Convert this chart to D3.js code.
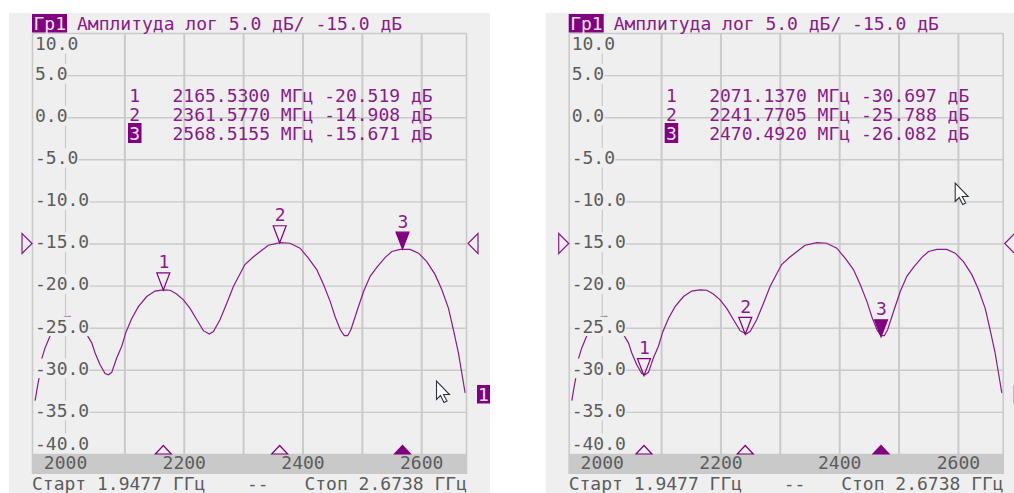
<!DOCTYPE html>
<html>
<head>
<meta charset="utf-8">
<script src="https://cdn.jsdelivr.net/npm/d3@7"></script>
<style>
html,body{margin:0;padding:0;background:#fff;overflow:hidden}
svg{display:block}
text{font-family:"DejaVu Sans Mono",monospace;font-size:18px;white-space:pre}
</style>
</head>
<body>
<svg id="chart" width="1014" height="493"></svg>
<script>
const traceFreq = [1949.5,1952.8,1956.2,1960.7,1966.3,1974.7,1986,1998.9,2008.4,2022.5,2038.2,2045,2050.6,2059,2067.4,2073,2078.7,2087,2095.5,2102.8,2112.4,2123.5,2137.7,2151.6,2165.6,2177,2188,2199.4,2210.6,2222,2233,2243,2250,2261,2272.5,2283.6,2303,2317,2330,2342.6,2362.3,2379,2396,2410,2424,2435.6,2446.8,2455,2463.7,2470.4,2476,2481.6,2491.7,2502.9,2514,2525.5,2539.5,2550.6,2564.6,2581.3,2595.5,2609.4,2623.5,2634.8,2646,2654.3,2662.7,2668.3,2674];
const traceDb = [-33.7,-32.3,-31,-28.7,-27.4,-26,-24.6,-23.7,-23.65,-24.6,-26,-26.8,-28,-29.4,-30.45,-30.6,-30.3,-28.6,-27.2,-25.5,-23.9,-22.5,-21.3,-20.65,-20.5,-20.55,-21,-21.7,-22.7,-24.05,-25.35,-25.75,-25.45,-24.05,-22.1,-20.1,-17.5,-16.6,-15.9,-15.2,-14.9,-14.97,-15.55,-16.75,-18.1,-19.9,-21.9,-23.7,-25.25,-25.95,-25.95,-25.25,-23.05,-20.7,-18.9,-17.8,-16.65,-15.95,-15.7,-15.7,-16.15,-17.15,-18.7,-20.5,-22.7,-25.25,-28,-30.35,-32.75];

const yTicks = [10,5,0,-5,-10,-15,-20,-25,-30,-35,-40];
const yLabels = ["10.0","5.0","0.0","-5.0","-10.0","-15.0","-20.0","-25.0","-30.0","-35.0","-40.0"];
const xTicks = [2000,2100,2200,2300,2400,2500,2600];
const xLabels = ["2000","","2200","","2400","","2600"];

const titleBadge = "Гр1";
const titleText = "Амплитуда лог 5.0 дБ/ -15.0 дБ";
const startText = "Старт 1.9477 ГГц";
const midText = "--";
const stopText = "Стоп 2.6738 ГГц";

const leftMarkerNames = ["1","2","3"];
const leftMarkerFreq = [2165.53,2361.577,2568.5155];
const leftMarkerDb = [-20.519,-14.908,-15.671];
const leftMarkerRows = ["2165.5300 МГц -20.519 дБ","2361.5770 МГц -14.908 дБ","2568.5155 МГц -15.671 дБ"];

const rightMarkerNames = ["1","2","3"];
const rightMarkerFreq = [2071.137,2241.7705,2470.492];
const rightMarkerDb = [-30.697,-25.788,-26.082];
const rightMarkerRows = ["2071.1370 МГц -30.697 дБ","2241.7705 МГц -25.788 дБ","2470.4920 МГц -26.082 дБ"];

const refLevel = -15;
const channelBadge = "1";

const PURPLE = "#800080", TRACE = "#8a1a8a", GRID = "#cacaca", INK = "#5c5c5c", PANEL = "#efefef";
const svg = d3.select("#chart");

function panel(ox, names, freqs, dbs, rows, cursor, showBadgeText) {
  const g = svg.append("g").attr("transform", `translate(${ox},0)`);
  const L = 32.5, R = 466.5, T = 33, B = 454;
  const x = d3.scaleLinear().domain([1947.7,2673.8]).range([34,465]);
  const y = d3.scaleLinear().domain([10,-40]).range([T,B]);

  g.append("rect").attr("x",9).attr("y",13).attr("width",481).attr("height",480).attr("fill",PANEL);

  // grid
  const gx = g.append("g").attr("transform",`translate(0,${B})`)
    .call(d3.axisBottom(x).tickValues(xTicks).tickSize(-(B-T)).tickFormat(""));
  gx.select(".domain").remove();
  gx.selectAll("line").attr("stroke",GRID).attr("stroke-width",2)
    .filter(d=>d===2000).attr("stroke-width",1.2);
  const gy = g.append("g").attr("transform",`translate(${L},0)`)
    .call(d3.axisLeft(y).tickValues(yTicks).tickSize(-(R-L)).tickFormat(""));
  gy.select(".domain").remove();
  gy.selectAll("line").attr("stroke",GRID).attr("stroke-width",1.4);
  g.append("line").attr("x1",L).attr("x2",L).attr("y1",T).attr("y2",B+20).attr("stroke",GRID).attr("stroke-width",1.6);
  g.append("line").attr("x1",R).attr("x2",R).attr("y1",T).attr("y2",B+20).attr("stroke",GRID).attr("stroke-width",1.6);

  // trace
  const line = d3.line().x((d,i)=>x(traceFreq[i])).y(d=>y(d));
  g.append("path").attr("d",line(traceDb)).attr("fill","none").attr("stroke",TRACE).attr("stroke-width",1.2);

  // y labels with knock-out boxes, drawn over grid and trace
  const ly = g.append("g").attr("transform",`translate(${L},0)`)
    .call(d3.axisLeft(y).tickValues(yTicks).tickSize(0).tickFormat((d,i)=>yLabels[i]));
  ly.select(".domain").remove();
  ly.attr("font-family",null).attr("font-size",null);
  ly.selectAll(".tick").each(function(d,i){
    const t = d3.select(this);
    const c = y(d);
    const base = d===10 ? T+17 : d===-40 ? B-4.5 : c+4.8;
    t.attr("transform",null);
    t.select("text").remove();
    t.append("rect").attr("x",1.2).attr("y",base-16).attr("width",yLabels[i].length*10.84+1.5).attr("height",19.6).attr("fill",PANEL);
    t.append("text").attr("x",2.5).attr("y",base).attr("text-anchor","start").attr("fill",INK).text(yLabels[i]);
  });

  // x band and labels
  g.append("rect").attr("x",L-0.5).attr("y",B).attr("width",R-L+1).attr("height",20).attr("fill","#c9c9c9");
  const lx = g.append("g").attr("transform",`translate(0,${B})`)
    .call(d3.axisBottom(x).tickValues(xTicks).tickSize(0).tickFormat((d,i)=>xLabels[i]));
  lx.select(".domain").remove();
  lx.attr("font-family",null).attr("font-size",null);
  lx.selectAll("text").attr("y",15).attr("dy",null).attr("fill",INK).attr("text-anchor","middle");

  // title
  g.append("rect").attr("x",32).attr("y",14).attr("width",35).attr("height",18.5).attr("fill",PURPLE);
  g.append("text").attr("x",33.5).attr("y",30).attr("fill","#f0e4f0").text(titleBadge);
  g.append("text").attr("x",77).attr("y",30).attr("fill",TRACE).text(titleText);

  // marker table
  const rowY = d3.scalePoint().domain([0,1,2]).range([102,140]);
  names.forEach((n,i)=>{
    const active = i===names.length-1;
    if(active) g.append("rect").attr("x",128).attr("y",rowY(i)-17).attr("width",13.5).attr("height",20).attr("fill",PURPLE);
    g.append("text").attr("x",134.7).attr("y",rowY(i)).attr("text-anchor","middle")
      .attr("fill",active?"#f0e4f0":TRACE).text(n);
    g.append("text").attr("x",172.5).attr("y",rowY(i)).attr("fill",TRACE).text(rows[i]);
  });

  // markers
  names.forEach((n,i)=>{
    const active = i===names.length-1;
    const mx = x(freqs[i]), my = y(dbs[i]);
    g.append("path").attr("d",`M${mx},${my}l-6.5,-17h13z`)
      .attr("fill",active?PURPLE:"none").attr("stroke",PURPLE).attr("stroke-width",1.2);
    g.append("text").attr("x",mx+0.5).attr("y",my-21.5).attr("text-anchor","middle").attr("fill",TRACE).text(n);
    g.append("path").attr("d",`M${mx},${B-8.5}l-8,8.5h16z`)
      .attr("fill",active?PURPLE:"none").attr("stroke",PURPLE).attr("stroke-width",1.2);
  });

  // reference level arrows
  const ry = y(refLevel);
  g.append("path").attr("d",`M32,${ry}l-10,-10v20z`).attr("fill","none").attr("stroke",TRACE).attr("stroke-width",1.2);
  g.append("path").attr("d",`M468,${ry}l10,-10v20z`).attr("fill","none").attr("stroke",TRACE).attr("stroke-width",1.2);

  // channel badge
  g.append("rect").attr("x",477).attr("y",385).attr("width",13).attr("height",18.5).attr("fill",PURPLE);
  if (showBadgeText) g.append("text").attr("x",483.5).attr("y",401).attr("text-anchor","middle").attr("fill","#f0e4f0").text(channelBadge);

  // footer
  g.append("text").attr("x",32).attr("y",490).attr("fill",INK).text(startText);
  g.append("text").attr("x",247).attr("y",490).attr("fill",INK).text(midText);
  g.append("text").attr("x",467).attr("y",490).attr("text-anchor","end").attr("fill",INK).text(stopText);

  // mouse pointer
  g.append("path").attr("transform",`translate(${cursor[0]},${cursor[1]})`)
    .attr("d","M0,0V18.5L4,14.5L7.5,21.5L10.5,20L7,13.5H13Z")
    .attr("fill","#fff").attr("stroke","#2b3340").attr("stroke-width",1.1);
}

panel(0, leftMarkerNames, leftMarkerFreq, leftMarkerDb, leftMarkerRows, [436.5,381], true);
panel(536.7, rightMarkerNames, rightMarkerFreq, rightMarkerDb, rightMarkerRows, [418.5,183], false);
</script>
</body>
</html>
